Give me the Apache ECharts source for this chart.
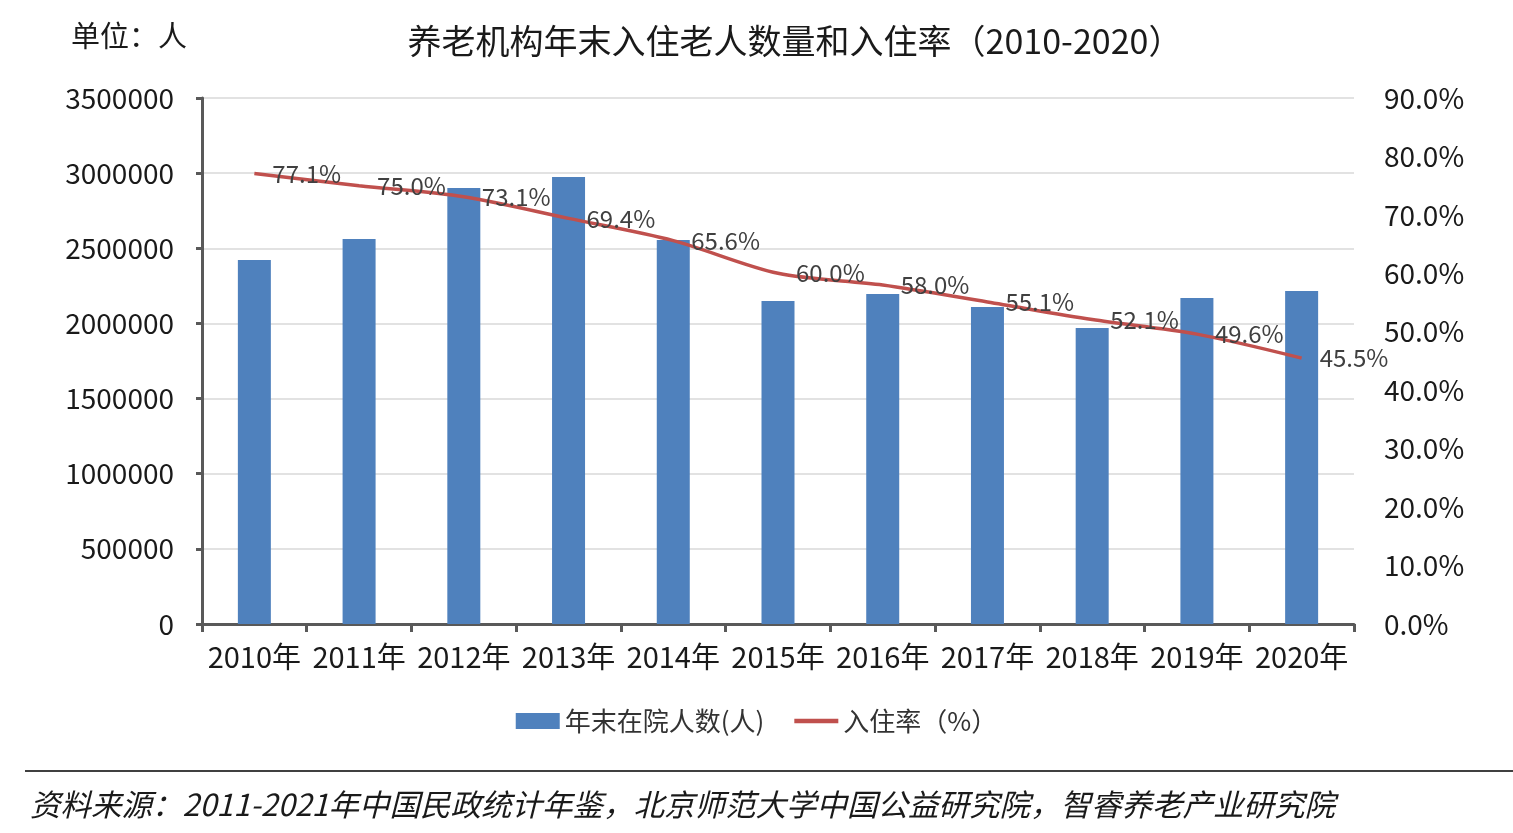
<!DOCTYPE html>
<html>
<head>
<meta charset="utf-8">
<script src="https://cdn.jsdelivr.net/npm/echarts@6/dist/echarts.min.js"></script>
<style>
html,body{margin:0;padding:0;background:#fff;}
#chart{width:1513px;height:833px;}
</style>
</head>
<body>
<div id="chart"></div>
<script>
const categories = ['2010年','2011年','2012年','2013年','2014年','2015年','2016年','2017年','2018年','2019年','2020年'];
const residents = [2422000, 2562000, 2901000, 2974000, 2555000, 2149000, 2196000, 2109000, 1970000, 2169000, 2216000];
const occupancy = [77.1, 75.0, 73.1, 69.4, 65.6, 60.0, 58.0, 55.1, 52.1, 49.6, 45.5];
const seriesNames = ['年末在院人数(人)', '入住率（%）'];
const titleText = '养老机构年末入住老人数量和入住率（2010-2020）';
const unitText = '单位：人';
const sourceText = '资料来源：2011-2021年中国民政统计年鉴，北京师范大学中国公益研究院，智睿养老产业研究院';

const numFont = "'Noto Sans CJK SC', sans-serif";
const cjkFont = "'Noto Sans CJK SC', sans-serif";

const chart = echarts.init(document.getElementById('chart'), null, {renderer: 'canvas'});
chart.setOption({
  animation: false,
  backgroundColor: '#ffffff',
  title: [
    {text: titleText, left: 790, top: 19, textAlign: 'center',
     textStyle: {fontFamily: cjkFont, fontSize: 34, fontWeight: 'normal', color: '#1a1a1a'}},
    {text: unitText, left: 66, top: 16,
     textStyle: {fontFamily: cjkFont, fontSize: 29, fontWeight: 'normal', color: '#1a1a1a'}}
  ],
  legend: {
    top: 703, left: 'center',
    itemGap: 30,
    textStyle: {fontFamily: numFont, fontSize: 26, color: '#333'},
    data: [
      {name: seriesNames[0], icon: 'rect', itemStyle: {color: '#4f81bd'}},
      {name: seriesNames[1], icon: 'path://M0,0 L10,0 L10,1 L0,1 Z', itemStyle: {color: '#c0504d'}}
    ],
    itemWidth: 44, itemHeight: 16
  },
  grid: {left: 202, right: 159, top: 98, bottom: 209},
  xAxis: {
    type: 'category', data: categories,
    axisLine: {lineStyle: {color: '#595959', width: 3}},
    axisTick: {show: true, alignWithLabel: false, length: 8, lineStyle: {color: '#595959', width: 3}},
    axisLabel: {interval: 0, fontFamily: numFont, fontSize: 29, color: '#1a1a1a', margin: 18}
  },
  yAxis: [
    {type: 'value', min: 0, max: 3500000, interval: 500000,
     axisLine: {show: true, lineStyle: {color: '#595959', width: 3}},
     axisTick: {show: true, length: 6, lineStyle: {color: '#595959', width: 3}},
     splitLine: {lineStyle: {color: '#d9d9d9', width: 1.5}},
     axisLabel: {fontFamily: numFont, fontSize: 28, color: '#1a1a1a', margin: 28,
       formatter: v => String(v)}},
    {type: 'value', min: 0, max: 90, interval: 10,
     axisLine: {show: false}, axisTick: {show: false}, splitLine: {show: false},
     axisLabel: {fontFamily: numFont, fontSize: 28, color: '#1a1a1a', margin: 30,
       formatter: v => v.toFixed(1) + '%'}}
  ],
  series: [
    {name: seriesNames[0], type: 'bar', data: residents, barWidth: 33,
     itemStyle: {color: '#4f81bd'}},
    {name: seriesNames[1], type: 'line', yAxisIndex: 1, data: occupancy,
     smooth: 0.3, showSymbol: true, symbol: 'circle', symbolSize: 0.01,
     lineStyle: {color: '#c0504d', width: 3.5},
     itemStyle: {color: '#c0504d'},
     label: {show: true, position: 'right', distance: 18, fontFamily: numFont, fontSize: 24, color: '#404040',
       formatter: p => p.value.toFixed(1) + '%'}}
  ],
  graphic: [
    {type: 'line', shape: {x1: 25, y1: 771, x2: 1513, y2: 771}, style: {stroke: '#404040', lineWidth: 2}},
    {type: 'text', left: 30, top: 789,
     style: {text: sourceText, font: "italic 30.5px 'Noto Sans CJK SC', sans-serif", fill: '#1a1a1a'}}
  ]
});
</script>
</body>
</html>
